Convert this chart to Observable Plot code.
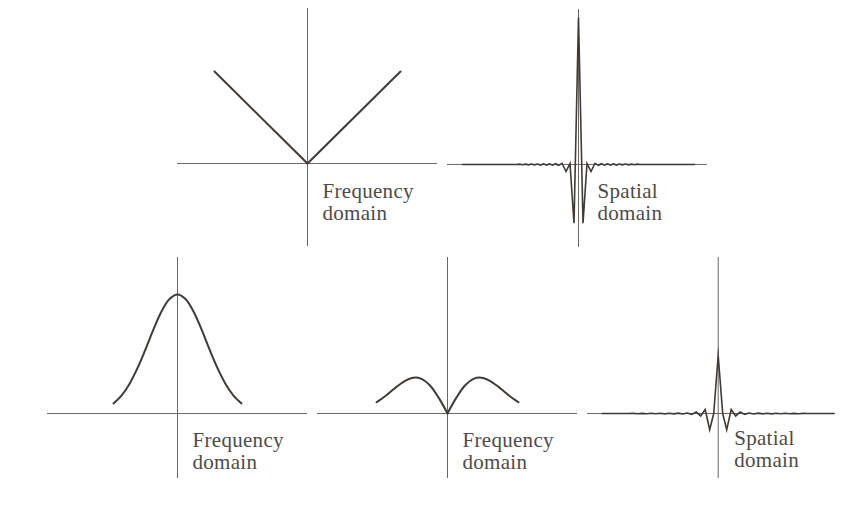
<!DOCTYPE html>
<html>
<head>
<meta charset="utf-8">
<script src="https://cdn.jsdelivr.net/npm/d3@7"></script>
<script src="https://cdn.jsdelivr.net/npm/@observablehq/plot@0.6"></script>
<style>
  html, body { margin: 0; padding: 0; background: #fff; }
  #chart { position: relative; width: 857px; height: 510px; background: #fff; overflow: hidden; }
  #chart svg { position: absolute; overflow: visible; background: transparent; }
  #chart text { letter-spacing: 0.3px; }
</style>
</head>
<body>
<div id="chart"></div>
<script>
// ---- Data ----
// Top-left: frequency-domain |u| (V shape)
const vFreq = [-1, 0, 1];
const vGain = [1, 0, 1];

// Top-right: spatial-domain kernel of the V filter
const spTopX = [-116, -62, -59, -56, -53, -50, -47, -44, -41, -38, -35, -32, -29, -26, -23, -20, -16.5, -12.5, -8.5, -4.5, 0,
                4.5, 8.5, 12.5, 16.5, 20, 23, 26, 29, 32, 35, 38, 41, 44, 47, 50, 53, 56, 59, 62, 116];
const spTopY = [0, 0, 0.002, -0.002, 0.002, -0.003, 0.003, -0.003, 0.003, -0.004, 0.004, -0.004, 0.004, -0.005, 0.005, -0.006, 0.008, -0.048, 0.006, -0.40, 1,
                -0.40, 0.006, -0.048, 0.008, -0.006, 0.005, -0.005, 0.004, -0.004, 0.004, -0.004, 0.003, -0.003, 0.003, -0.003, 0.002, -0.002, 0.002, 0, 0];

// Bottom-left: Gaussian low-pass in frequency
const gaussFreq = [-1, -0.875, -0.75, -0.625, -0.5, -0.375, -0.25, -0.125, 0, 0.125, 0.25, 0.375, 0.5, 0.625, 0.75, 0.875, 1];
const gaussGain = [0.085, 0.151, 0.249, 0.381, 0.539, 0.707, 0.857, 0.962, 1, 0.962, 0.857, 0.707, 0.539, 0.381, 0.249, 0.151, 0.085];

// Bottom-middle: |u| times Gaussian
const lapFreq = [-1, -0.875, -0.75, -0.625, -0.5, -0.375, -0.25, -0.125, 0, 0.125, 0.25, 0.375, 0.5, 0.625, 0.75, 0.875, 1];
const lapGain = [0.312, 0.487, 0.687, 0.874, 0.988, 0.970, 0.784, 0.440, 0, 0.440, 0.784, 0.970, 0.988, 0.874, 0.687, 0.487, 0.312];

// Bottom-right: spatial-domain kernel of that filter
const spBotX = [-116, -89.5, -85, -80.5, -76, -71.5, -67, -62.5, -58, -53.5, -49, -44.5, -40, -35.5, -31, -26.5, -22, -17.5, -13, -8.5, -4.5, 0,
                4.5, 8.5, 13, 17.5, 22, 26.5, 31, 35.5, 40, 44.5, 49, 53.5, 58, 62.5, 67, 71.5, 76, 80.5, 85, 89.5, 116];
const spBotY = [0, 0, 0.003, -0.003, 0.003, -0.003, 0.004, -0.004, 0.004, -0.005, 0.005, -0.006, 0.007, -0.008, 0.01, -0.014, 0.026, -0.042, 0.07, -0.28, 0, 1,
                0, -0.28, 0.07, -0.042, 0.026, -0.014, 0.01, -0.008, 0.007, -0.006, 0.005, -0.005, 0.004, -0.004, 0.004, -0.003, 0.003, -0.003, 0.003, 0, 0];

const labelFreq = "Frequency\ndomain";
const labelSpatial = "Spatial\ndomain";

// ---- Styling ----
const axisColor = "#6a6764";
const curveColor = "#403b37";
const textColor = "#4f4b48";
const font = "Liberation Serif, Times New Roman, serif";

function pts(xs, ys) { return xs.map((x, i) => ({x, y: ys[i]})); }

function panel({left, top, width, height, xDomain, yDomain, data, curve, strokeWidth, label, dx, dy, z}) {
  const svg = Plot.plot({
    width, height,
    margin: 0,
    x: {domain: xDomain, axis: null},
    y: {domain: yDomain, axis: null},
    marks: [
      Plot.ruleY([0], {stroke: axisColor, strokeWidth: 1}),
      Plot.ruleX([0], {stroke: axisColor, strokeWidth: 1}),
      Plot.line(data, {x: "x", y: "y", z: z ? "z" : undefined, stroke: curveColor, strokeWidth, curve, strokeLinejoin: "miter", strokeMiterlimit: 20}),
      Plot.text([label], {x: () => 0, y: () => 0, text: d => d, textAnchor: "start", lineAnchor: "top",
        dx, dy, fontSize: 21, fontFamily: font, lineHeight: 1.05, fill: textColor})
    ]
  });
  svg.style.left = left + "px";
  svg.style.top = top + "px";
  document.getElementById("chart").appendChild(svg);
}

// Top-left
panel({left: 177, top: 8, width: 260, height: 238,
  xDomain: [-1.398, 1.398], yDomain: [-0.902, 1.685],
  data: pts(vFreq, vGain), curve: "linear", strokeWidth: 2,
  label: labelFreq, dx: 15, dy: 19});

// Top-right
panel({left: 447, top: 9, width: 260, height: 238,
  xDomain: [-131, 129], yDomain: [-0.565, 1.054],
  data: pts(spTopX, spTopY), curve: "linear", strokeWidth: 1.6,
  label: labelSpatial, dx: 19, dy: 18});

// Bottom-left
panel({left: 47, top: 257, width: 260, height: 221,
  xDomain: [-2.03, 2.03], yDomain: [-0.546, 1.311],
  data: pts(gaussFreq, gaussGain), curve: "catmull-rom", strokeWidth: 2,
  label: labelFreq, dx: 15, dy: 18});

// Bottom-middle (two halves meeting in a cusp at 0)
const lapPts = pts(lapFreq, lapGain);
const lapData = lapPts.filter(d => d.x <= 0).map(d => ({...d, z: "L"}))
  .concat(lapPts.filter(d => d.x >= 0).map(d => ({...d, z: "R"})));
panel({left: 317, top: 257, width: 260, height: 221,
  xDomain: [-1.831, 1.831], yDomain: [-1.806, 4.333],
  data: lapData, z: true, curve: "catmull-rom", strokeWidth: 2,
  label: labelFreq, dx: 15, dy: 18});

// Bottom-right
panel({left: 587, top: 257, width: 246, height: 221,
  xDomain: [-130.7, 115.3], yDomain: [-1.12, 2.69],
  data: pts(spBotX, spBotY), curve: "linear", strokeWidth: 1.6,
  label: labelSpatial, dx: 16, dy: 16});
</script>
</body>
</html>
